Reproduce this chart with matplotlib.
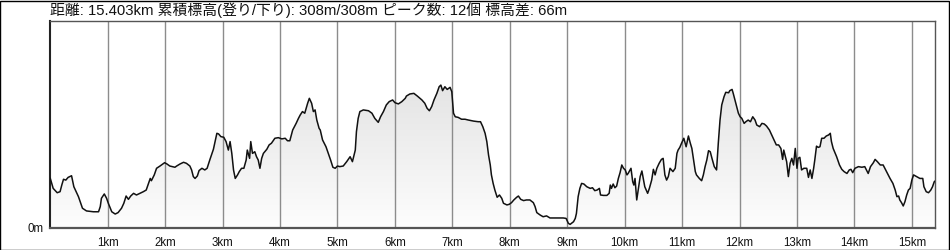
import matplotlib
matplotlib.use("Agg")
import matplotlib.pyplot as plt
import numpy as np
from matplotlib.patches import Rectangle
from matplotlib.colors import LinearSegmentedColormap

title = "距離: 15.403km 累積標高(登り/下り): 308m/308m ピーク数: 12個 標高差: 66m"
total_km = 15.403

distance_km = [
    0.00, 0.05, 0.12, 0.17, 0.20, 0.23, 0.27, 0.31, 0.37, 0.41, 0.49, 0.56, 0.63, 0.75, 0.84,
    0.87, 0.89, 0.94, 0.98, 1.01, 1.07, 1.13, 1.18, 1.24, 1.28, 1.32, 1.36, 1.40, 1.45, 1.50,
    1.56, 1.62, 1.67, 1.71, 1.74, 1.76, 1.81, 1.85, 1.91, 1.99, 2.03, 2.08, 2.17, 2.20, 2.26,
    2.32, 2.37, 2.43, 2.46, 2.49, 2.52, 2.56, 2.59, 2.64, 2.69, 2.73, 2.78, 2.84, 2.90, 2.93,
    2.97, 3.02, 3.06, 3.10, 3.13, 3.16, 3.19, 3.22, 3.26, 3.29, 3.33, 3.37, 3.41, 3.43, 3.47,
    3.49, 3.52, 3.56, 3.59, 3.62, 3.65, 3.68, 3.71, 3.77, 3.81, 3.85, 3.91, 3.97, 4.03, 4.09,
    4.13, 4.17, 4.22, 4.28, 4.32, 4.35, 4.39, 4.43, 4.48, 4.51, 4.55, 4.58, 4.61, 4.64, 4.68,
    4.70, 4.74, 4.80, 4.84, 4.88, 4.92, 4.96, 5.00, 5.04, 5.10, 5.16, 5.22, 5.26, 5.31, 5.33,
    5.36, 5.39, 5.45, 5.54, 5.60, 5.65, 5.71, 5.75, 5.80, 5.85, 5.90, 5.96, 6.00, 6.06, 6.12,
    6.18, 6.20, 6.26, 6.33, 6.39, 6.47, 6.52, 6.56, 6.60, 6.64, 6.68, 6.73, 6.77, 6.80, 6.83,
    6.87, 6.91, 6.96, 6.99, 7.02, 7.05, 7.10, 7.16, 7.22, 7.28, 7.37, 7.45, 7.49, 7.53, 7.57,
    7.60, 7.63, 7.66, 7.68, 7.71, 7.74, 7.78, 7.82, 7.86, 7.89, 7.95, 7.99, 8.03, 8.07, 8.12,
    8.15, 8.19, 8.24, 8.29, 8.35, 8.41, 8.44, 8.47, 8.53, 8.58, 8.64, 8.70, 8.82, 8.93, 8.98,
    9.02, 9.05, 9.11, 9.14, 9.16, 9.19, 9.22, 9.25, 9.29, 9.34, 9.40, 9.44, 9.48, 9.52, 9.56,
    9.58, 9.63, 9.69, 9.73, 9.75, 9.77, 9.80, 9.83, 9.86, 9.89, 9.92, 9.95, 9.98, 10.01, 10.04,
    10.06, 10.11, 10.14, 10.16, 10.18, 10.21, 10.24, 10.27, 10.30, 10.33, 10.35, 10.40, 10.43,
    10.47, 10.50, 10.53, 10.56, 10.60, 10.64, 10.67, 10.70, 10.73, 10.76, 10.79, 10.84, 10.88,
    10.91, 10.93, 10.96, 10.99, 11.03, 11.07, 11.11, 11.14, 11.17, 11.20, 11.23, 11.25, 11.30,
    11.34, 11.37, 11.40, 11.43, 11.46, 11.49, 11.52, 11.56, 11.60, 11.63, 11.66, 11.69, 11.73,
    11.76, 11.81, 11.83, 11.87, 11.89, 11.92, 11.95, 11.98, 12.01, 12.04, 12.08, 12.11, 12.15,
    12.19, 12.23, 12.27, 12.30, 12.35, 12.39, 12.43, 12.47, 12.52, 12.56, 12.60, 12.64, 12.68,
    12.72, 12.75, 12.77, 12.82, 12.85, 12.88, 12.91, 12.94, 12.97, 13.00, 13.02, 13.05, 13.08,
    13.12, 13.17, 13.20, 13.23, 13.26, 13.29, 13.31, 13.34, 13.37, 13.40, 13.43, 13.47, 13.51,
    13.55, 13.58, 13.60, 13.63, 13.69, 13.74, 13.78, 13.82, 13.87, 13.91, 13.94, 13.97, 14.01,
    14.07, 14.13, 14.18, 14.21, 14.24, 14.28, 14.33, 14.36, 14.40, 14.45, 14.50, 14.56, 14.62,
    14.67, 14.71, 14.74, 14.77, 14.79, 14.82, 14.85, 14.88, 14.91, 14.94, 14.97, 15.00, 15.03,
    15.08, 15.14, 15.19, 15.21, 15.25, 15.29, 15.33, 15.36, 15.39, 15.403,
]

elevation_m = [
    23.8, 19.0, 16.9, 17.4, 20.6, 23.4, 23.0, 24.3, 25.1, 19.8, 15.0, 9.4, 8.1, 7.7, 7.7,
    10.2, 14.2, 16.3, 14.2, 11.8, 7.7, 6.6, 7.3, 9.4, 11.8, 15.3, 13.7, 15.3, 16.6, 15.8,
    16.6, 17.4, 18.2, 21.4, 23.8, 22.7, 25.5, 28.7, 29.8, 31.4, 30.8, 29.8, 29.2, 29.8, 30.8,
    31.6, 31.1, 29.8, 27.9, 24.7, 23.8, 25.0, 27.6, 28.7, 27.9, 28.7, 33.0, 37.9, 45.6, 45.3,
    44.0, 43.7, 41.6, 37.5, 41.6, 35.9, 27.9, 23.8, 25.5, 27.1, 28.7, 28.7, 32.7, 37.5, 33.5,
    41.6, 35.9, 36.7, 34.3, 32.7, 28.7, 33.5, 35.9, 37.9, 40.0, 40.8, 43.2, 43.5, 42.9, 43.2,
    42.0, 42.0, 47.2, 50.4, 52.8, 54.4, 56.1, 55.3, 60.1, 62.5, 60.1, 56.1, 56.9, 52.0, 48.0,
    47.2, 42.4, 39.1, 35.9, 32.7, 29.2, 28.7, 29.8, 29.5, 29.8, 31.9, 34.3, 31.9, 37.5, 46.4,
    52.8, 56.1, 56.9, 56.5, 55.3, 52.8, 50.9, 53.6, 56.1, 59.3, 60.9, 61.7, 60.4, 59.8, 60.9,
    62.5, 63.6, 64.6, 64.9, 63.6, 61.7, 60.1, 57.7, 56.5, 58.5, 61.7, 64.9, 68.1, 68.9, 66.2,
    68.1, 66.8, 67.8, 65.7, 55.3, 53.6, 53.3, 52.4, 52.4, 52.0, 51.5, 51.2, 51.2, 48.8, 45.6,
    41.6, 35.1, 30.3, 25.5, 21.4, 18.2, 14.7, 15.8, 14.2, 11.8, 11.0, 11.3, 12.1, 13.4, 14.7,
    15.3, 13.7, 13.1, 13.4, 13.4, 12.1, 10.2, 7.3, 6.1, 5.3, 5.7, 4.7, 4.7, 4.7, 4.5,
    2.1, 1.6, 2.9, 4.5, 6.9, 15.0, 19.0, 21.4, 21.1, 19.8, 19.0, 19.3, 17.9, 18.2, 19.0,
    15.8, 15.6, 15.6, 16.6, 20.6, 19.0, 21.1, 19.3, 20.1, 23.8, 26.6, 30.3, 28.7, 27.9, 25.5,
    26.2, 28.7, 22.2, 20.6, 23.8, 13.4, 19.0, 24.7, 27.4, 23.0, 19.8, 16.6, 19.0,
    23.0, 28.2, 25.5, 28.7, 31.1, 33.0, 33.5, 25.5, 23.0, 24.7, 28.7, 27.1, 28.7,
    35.9, 37.5, 38.8, 40.8, 43.2, 39.1, 44.3, 41.1, 38.3, 32.7, 27.1, 25.5, 23.8,
    22.7, 25.5, 29.5, 32.7, 37.2, 36.7, 33.5, 29.5, 27.9, 40.8, 52.0, 59.3, 63.3,
    65.4, 65.2, 66.2, 66.8, 64.9, 61.7, 58.5, 55.3, 53.6, 52.8, 50.4, 51.2, 52.0,
    51.2, 53.6, 52.0, 49.6, 48.8, 50.4, 50.1, 49.1, 47.2, 44.8, 42.4, 40.0, 40.0,
    38.3, 33.0, 37.5, 31.9, 24.7, 31.1, 33.5, 30.3, 38.3, 28.7, 33.5, 34.0, 27.9,
    28.7, 28.7, 24.3, 27.9, 23.8, 28.7, 32.7, 39.4, 38.8, 39.1, 43.2, 43.2, 44.3,
    44.8, 45.6, 41.6, 38.3, 34.3, 30.3, 28.2, 27.1, 26.2, 27.9, 28.2, 26.6, 28.7,
    29.5, 29.2, 29.5, 27.9, 26.2, 29.5, 31.4, 33.0, 31.9, 30.3, 30.3, 27.1, 23.8,
    21.4, 18.2, 15.0, 15.3, 13.4, 12.1, 10.5, 12.6, 15.8, 18.2, 19.0, 23.0, 25.5,
    24.7, 23.8, 23.8, 19.8, 17.4, 16.9, 18.2, 19.8, 22.2, 22.5,
]

km_ticks = list(range(1, 16))
km_labels = [f"{k}km" for k in km_ticks]
y_ticks = [0]
y_labels = ["0m"]
y_top = 100

fig = plt.figure(figsize=(9.5, 2.5), dpi=100)
fig.patch.set_facecolor("white")
ax = fig.add_axes([50.3 / 950, 1 - 227.7 / 250, (935 - 50.3) / 950, (227.7 - 20.7) / 250])

x = np.array(distance_km)
y = np.array(elevation_m)

ax.set_xlim(0, total_km)
ax.set_ylim(0, y_top)

# gradient fill under the profile
cmap = LinearSegmentedColormap.from_list("g", ["#fdfdfd", "#e3e3e3"])
grad = np.linspace(0, 1, 256).reshape(-1, 1)
img = ax.imshow(grad, extent=(0, total_km, 0, 72), origin="lower", aspect="auto",
                cmap=cmap, zorder=1, interpolation="bilinear")
poly = ax.fill_between(x, y, 0, facecolor="none", edgecolor="none", zorder=1)
clip = poly.get_paths()[0]
img.set_clip_path(clip, transform=ax.transData)

for k in km_ticks:
    ax.axvline(k, color="#8c8c8c", lw=1.0, zorder=2)

ax.plot(x, y, color="#111111", lw=1.1, zorder=3)

label_font = ["Liberation Sans", "DejaVu Sans"]
ax.set_xticks(km_ticks)
ax.set_xticklabels(km_labels, fontsize=8.3, family=label_font)
ax.set_yticks(y_ticks)
ax.set_yticklabels(y_labels, fontsize=8.3, family=label_font)
ax.tick_params(axis="both", length=0, colors="#111111")
ax.tick_params(axis="x", pad=7)
ax.tick_params(axis="y", pad=5)

for s in ["top", "right"]:
    ax.spines[s].set_color("#555555")
    ax.spines[s].set_linewidth(1.0)
ax.spines["left"].set_color("#222222")
ax.spines["left"].set_linewidth(1.5)
ax.spines["bottom"].set_color("#555555")
ax.spines["bottom"].set_linewidth(1.6)

fig.text(50 / 950, 1 - 2.0 / 250, title, ha="left", va="top", fontsize=10.7,
         family=["Liberation Sans", "Noto Sans CJK JP"], color="#111111")

fig.patches.append(Rectangle((0.0005, 0.001), 0.998, 0.997, transform=fig.transFigure,
                             fill=False, edgecolor="#000000", lw=1.0))

fig.savefig("out.png", dpi=100, facecolor="white")
